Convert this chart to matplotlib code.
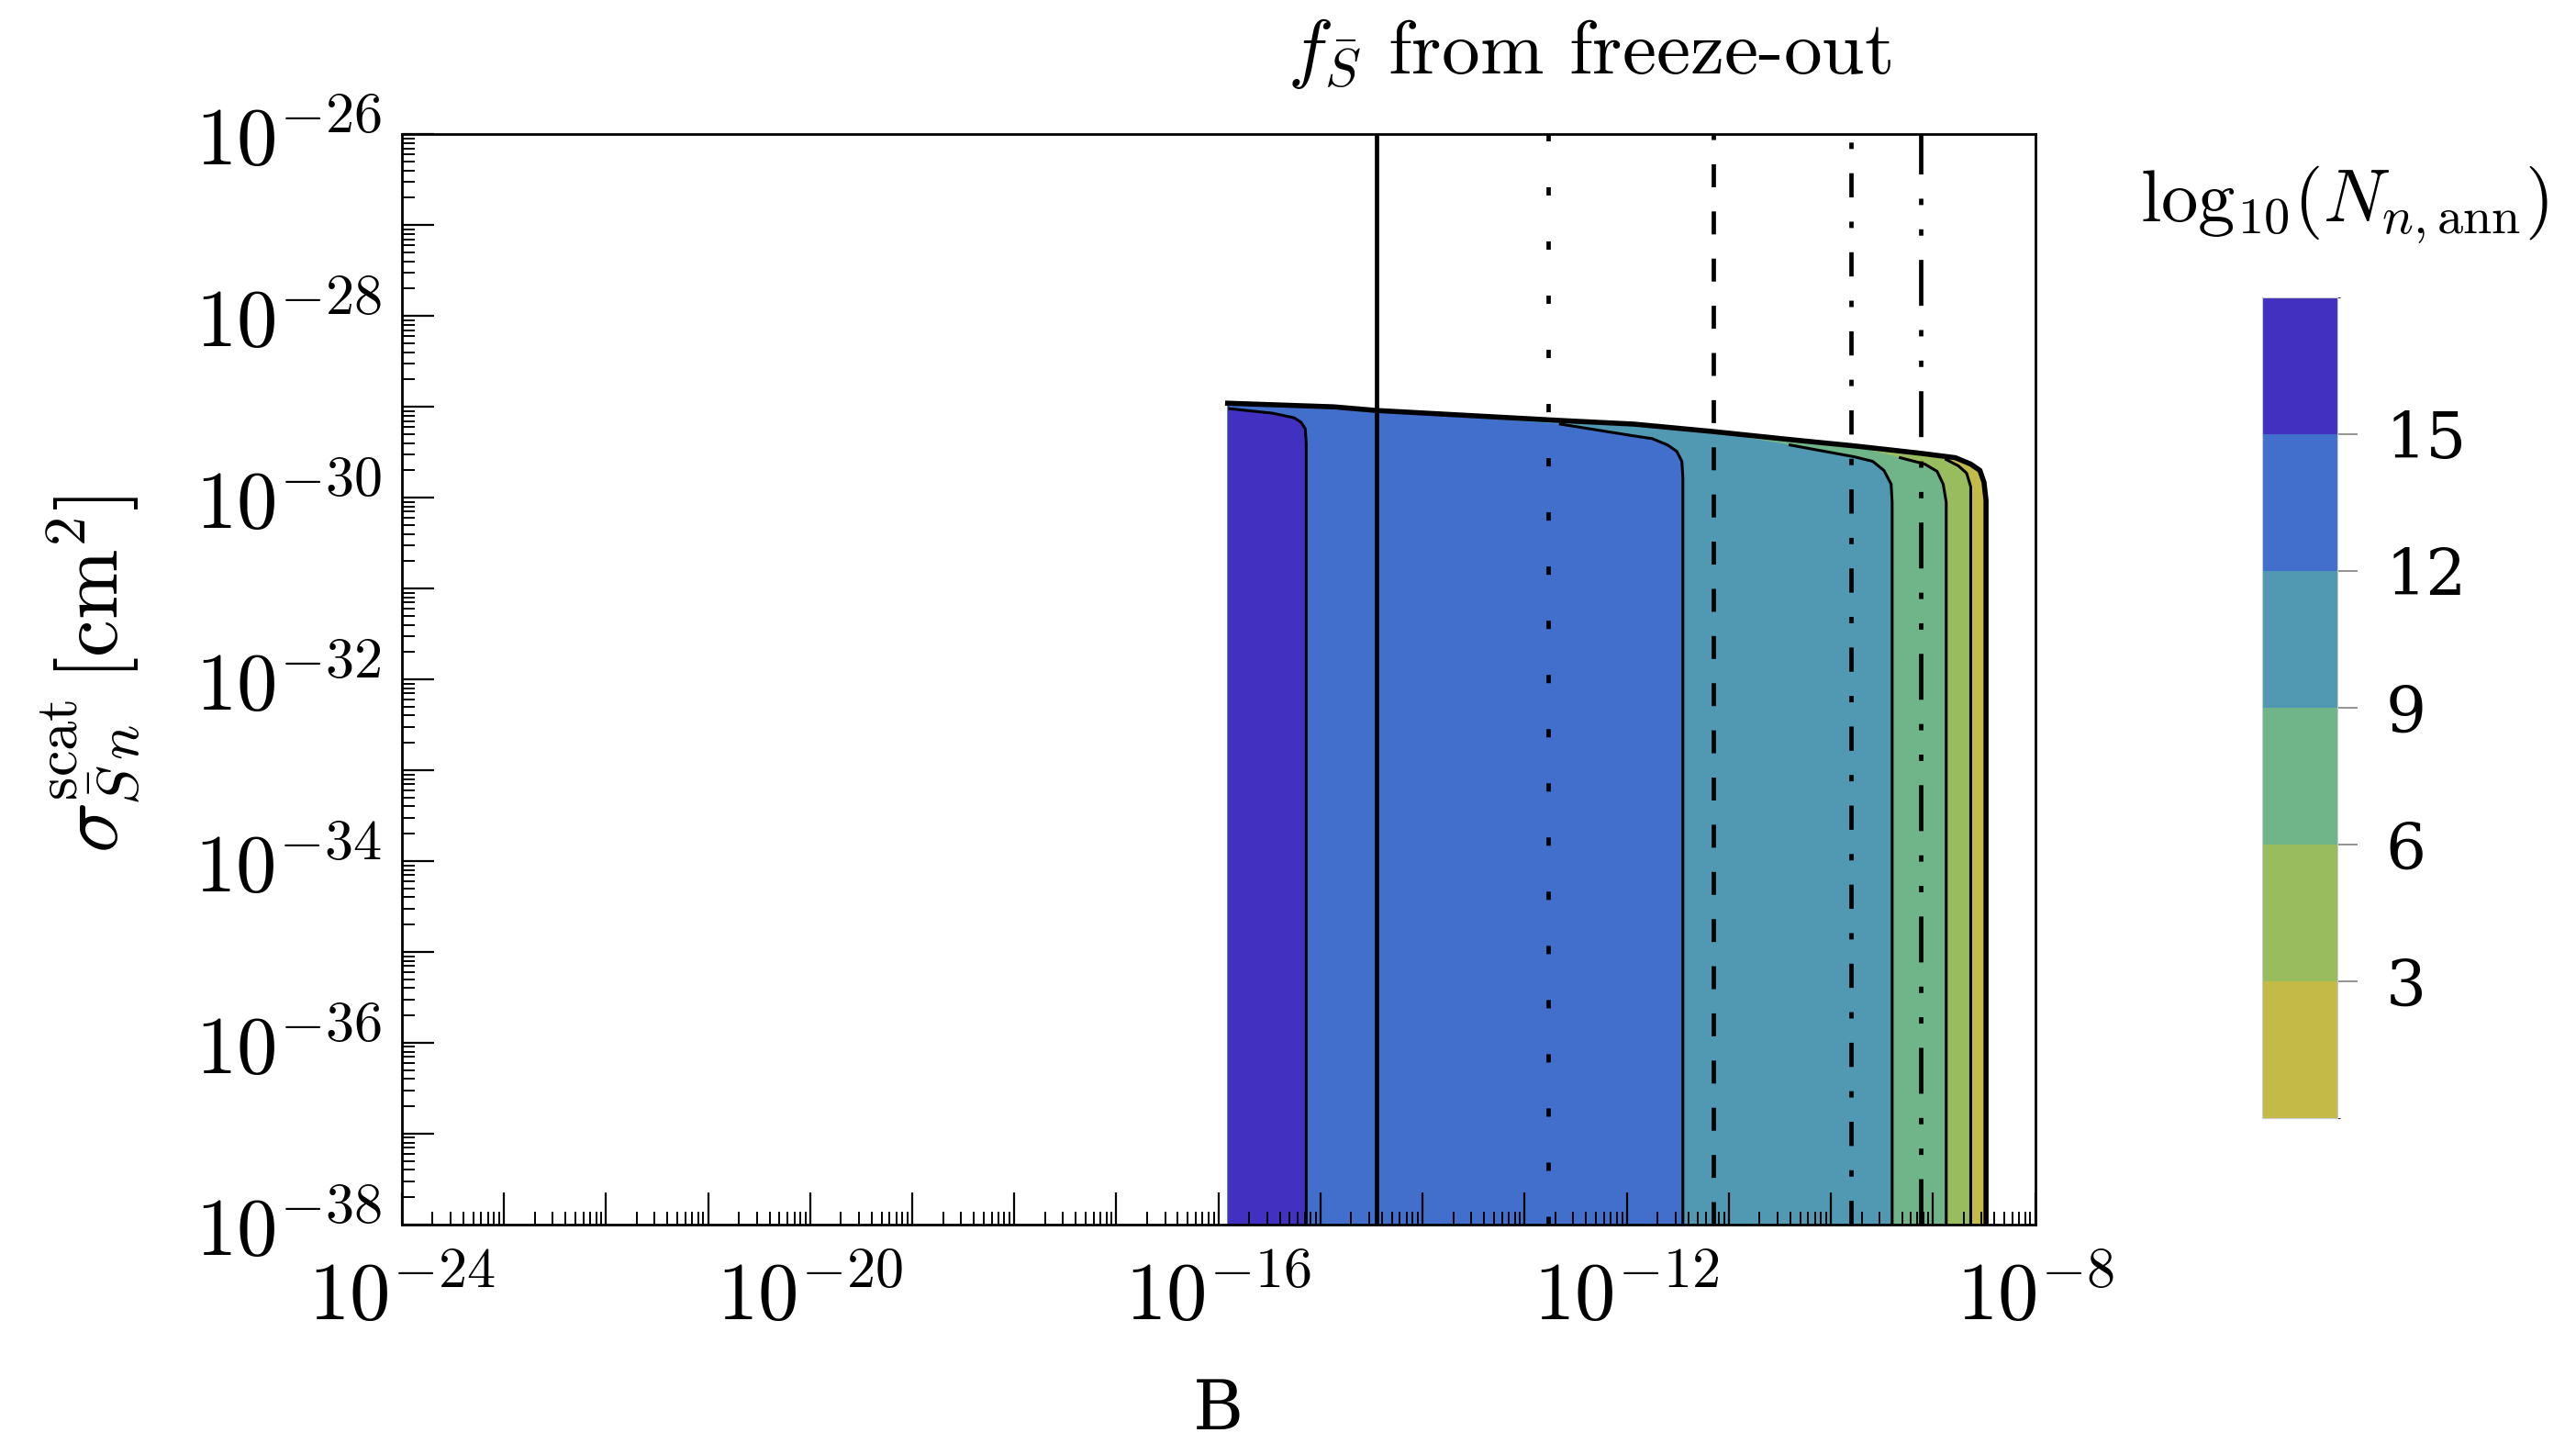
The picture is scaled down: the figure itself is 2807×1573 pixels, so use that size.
import numpy as np
import matplotlib
matplotlib.use('Agg')
import matplotlib.pyplot as plt
import matplotlib.ticker as ticker
from matplotlib.colors import ListedColormap, BoundaryNorm
from matplotlib.cm import ScalarMappable

plt.rcParams['mathtext.fontset'] = 'cm'
plt.rcParams['lines.scale_dashes'] = False

# contour levels of log10(N_n,ann) and their colours (low -> high)
levels = [0, 3, 6, 9, 12, 15, 18]
band_colors = ['#c4ba48', '#98bc5e', '#70b48a', '#5199b2', '#426ecc', '#4230c0']
cbar_ticks = [3, 6, 9, 12, 15]

# all positions below are log10(B) and log10(sigma / cm^2)
sig_bottom = -38.0
B_left = -15.91

# upper envelope of the allowed region
env_logB = [-15.91, -14.87, -14.45, -12.65, -11.93, -11.17, -10.40, -10.13, -9.77,
            -9.13, -8.78, -8.63, -8.54, -8.50, -8.48]
env_logsig = [-28.96, -29.00, -29.04, -29.15, -29.19, -29.27, -29.36, -29.39, -29.43,
              -29.51, -29.56, -29.63, -29.70, -29.83, -30.03]

# contour boundaries (top part, they run straight down below the last point)
b15_logB = [-15.89, -15.47, -15.26, -15.19, -15.15, -15.14]
b15_logsig = [-29.02, -29.07, -29.12, -29.17, -29.24, -29.40]
b12_logB = [-12.65, -11.93, -11.75, -11.60, -11.51, -11.46, -11.45]
b12_logsig = [-29.19, -29.32, -29.35, -29.42, -29.49, -29.60, -29.78]
b9_logB = [-10.40, -9.77, -9.59, -9.48, -9.41, -9.40]
b9_logsig = [-29.42, -29.55, -29.60, -29.70, -29.85, -30.05]
b6_logB = [-9.32, -9.08, -8.96, -8.90, -8.87]
b6_logsig = [-29.56, -29.63, -29.71, -29.85, -30.05]
b3_logB = [-8.87, -8.75, -8.67, -8.63, -8.63]
b3_logsig = [-29.58, -29.65, -29.73, -29.88, -30.05]

# f_Sbar from freeze-out: vertical reference lines
fo_logB = [-14.45, -12.77, -11.15, -9.80, -9.12]
fo_dashes = [None, (6.5, 36), (18, 19), (19, 19, 5, 19), (36, 19, 5, 19, 5, 19)]

x_label_exps = [-24, -20, -16, -12, -8]
y_label_exps = [-26, -28, -30, -32, -34, -36, -38]

fig = plt.figure(figsize=(28.07, 15.73), dpi=100)
ax = fig.add_axes([0.156, 0.152, 0.634, 0.755])
ax.set_xscale('log')
ax.set_yscale('log')


def left_of(bx, by):
    ex = [x for x in env_logB if x < bx[0]]
    ey = env_logsig[:len(ex)]
    xs = ex + bx + [bx[-1], B_left]
    ys = ey + by + [sig_bottom, sig_bottom]
    return 10 ** np.array(xs), 10 ** np.array(ys)


# whole region = lowest band, then the higher bands nested to the left
xs = 10 ** np.array(env_logB + [env_logB[-1], B_left])
ys = 10 ** np.array(env_logsig + [sig_bottom, sig_bottom])
ax.fill(xs, ys, color=band_colors[0], lw=0, zorder=1)

bounds = [(b3_logB, b3_logsig), (b6_logB, b6_logsig), (b9_logB, b9_logsig),
          (b12_logB, b12_logsig), (b15_logB, b15_logsig)]
for (bx, by), c in zip(bounds, band_colors[1:]):
    px, py = left_of(bx, by)
    ax.fill(px, py, color=c, lw=0, zorder=1)
    ax.plot(10 ** np.array(bx + [bx[-1]]), 10 ** np.array(by + [sig_bottom]),
            color='black', lw=2.2, zorder=2)

# envelope and right edge
ax.plot(10 ** np.array(env_logB + [env_logB[-1]]),
        10 ** np.array(env_logsig + [sig_bottom]), color='black', lw=4.0, zorder=3,
        solid_joinstyle='round')

for lb, d in zip(fo_logB, fo_dashes):
    if d is None:
        ax.axvline(10 ** lb, color='black', lw=3.4, zorder=4)
    else:
        ax.axvline(10 ** lb, color='black', lw=3.4, dashes=d, zorder=4)

ax.set_xlim(1e-24, 1e-8)
ax.set_ylim(1e-38, 1e-26)

ax.xaxis.set_major_locator(ticker.LogLocator(base=10, numticks=40))
ax.xaxis.set_minor_locator(ticker.LogLocator(base=10, subs=np.arange(2, 10), numticks=40))
ax.yaxis.set_major_locator(ticker.LogLocator(base=10, numticks=40))
ax.yaxis.set_minor_locator(ticker.LogLocator(base=10, subs=np.arange(2, 10), numticks=40))


def fmt_x(v, pos):
    e = int(round(np.log10(v)))
    return r'$10^{%d}$' % e if e in x_label_exps else ''


def fmt_y(v, pos):
    e = int(round(np.log10(v)))
    return r'$10^{%d}$' % e if e in y_label_exps else ''


ax.xaxis.set_major_formatter(ticker.FuncFormatter(fmt_x))
ax.yaxis.set_major_formatter(ticker.FuncFormatter(fmt_y))
ax.xaxis.set_minor_formatter(ticker.NullFormatter())
ax.yaxis.set_minor_formatter(ticker.NullFormatter())

ax.tick_params(which='both', direction='in', top=False, right=False)
ax.tick_params(which='major', length=25, width=1.6, labelsize=64)
ax.tick_params(which='minor', length=10, width=1.4)
ax.tick_params(axis='x', which='major', pad=26)
ax.tick_params(axis='y', which='major', pad=16)
for s in ax.spines.values():
    s.set_linewidth(2.0)
    s.set_zorder(5)

ax.set_xlabel('B', fontsize=54, fontfamily='DejaVu Serif')
ax.xaxis.set_label_coords(0.5, -0.14)
fig.text(0.035, 0.533, r'$\sigma^{\mathrm{scat}}_{\bar{S}\,n}\,[\mathrm{cm}^2]$',
         rotation=90, ha='center', va='center', fontsize=66)

fig.text(0.617, 0.963, r'$f_{\bar{S}}$ from freeze-out', ha='center', va='center',
         fontsize=60, fontfamily='cmr10')

# colour bar
cmap = ListedColormap(band_colors)
norm = BoundaryNorm(levels, cmap.N)
cax = fig.add_axes([0.878, 0.2257, 0.0292, 0.5683])
cb = fig.colorbar(ScalarMappable(norm=norm, cmap=cmap), cax=cax, ticks=cbar_ticks)
cb.outline.set_edgecolor('#cccccc')
cb.outline.set_linewidth(0.8)
cax.tick_params(direction='out', length=16, width=1.2, color='gray',
                labelsize=50, pad=22)
for lab in cax.get_yticklabels():
    lab.set_fontfamily('DejaVu Serif')
fig.text(0.910, 0.858, r'$\mathrm{log}_{10}(N_{n,\mathrm{ann}})$', ha='center', va='center',
         fontsize=58)

fig.savefig('out.png', dpi=100)
